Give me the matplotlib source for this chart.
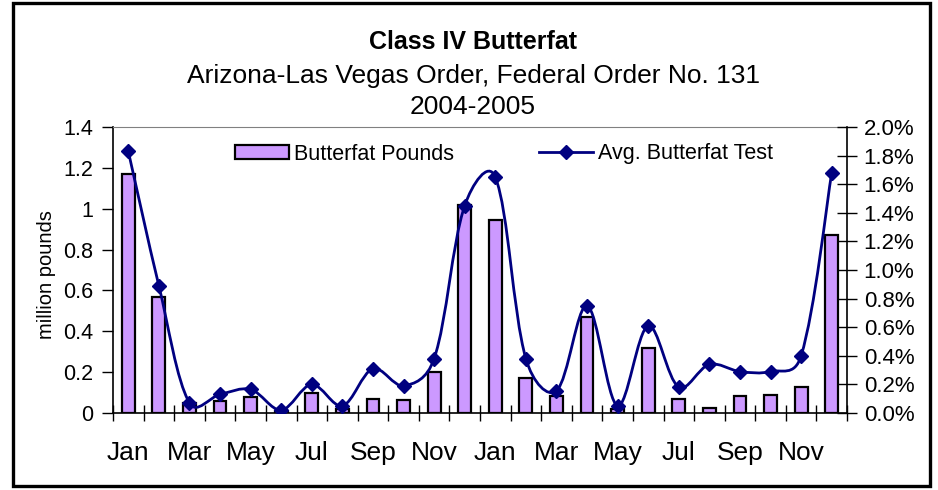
import numpy as np
import matplotlib.pyplot as plt
from matplotlib.path import Path
from matplotlib.patches import PathPatch, Rectangle
from matplotlib.lines import Line2D
from matplotlib.ticker import FuncFormatter, MultipleLocator

plt.rcParams['font.family'] = ['Liberation Sans', 'DejaVu Sans']

# Monthly data, Jan 2004 - Dec 2005
months = ['Jan', 'Feb', 'Mar', 'Apr', 'May', 'Jun',
          'Jul', 'Aug', 'Sep', 'Oct', 'Nov', 'Dec'] * 2
butterfat_pounds = [1.17, 0.57, 0.05, 0.06, 0.08, 0.01, 0.10, 0.02, 0.07, 0.065, 0.20, 1.02,
                    0.945, 0.17, 0.085, 0.47, 0.02, 0.32, 0.067, 0.026, 0.083, 0.088, 0.125, 0.87]
avg_test = [1.83, 0.89, 0.07, 0.13, 0.165, 0.02, 0.20, 0.05, 0.31, 0.19, 0.38, 1.45,
            1.65, 0.38, 0.155, 0.75, 0.05, 0.61, 0.18, 0.34, 0.29, 0.29, 0.40, 1.68]  # percent

bar_color = '#CC99FF'
line_color = '#000080'

W, H = 938, 490
fig = plt.figure(figsize=(W / 100, H / 100), dpi=100)
fig.patch.set_facecolor('white')

# outer chart border
fig.patches.append(Rectangle((13 / W, 4 / H), (930 - 13) / W, (487 - 4) / H,
                             transform=fig.transFigure, fill=False,
                             edgecolor='black', linewidth=2.4))

left, right, top, bottom = 113, 847, 127, 413
ax = fig.add_axes([left / W, 1 - bottom / H, (right - left) / W, (bottom - top) / H])
ax2 = ax.twinx()

x = np.arange(len(months))
ax.bar(x, butterfat_pounds, width=0.42, color=bar_color, edgecolor='black',
       linewidth=1.6, zorder=2)

ax.set_xlim(-0.5, len(months) - 0.5)
ax.set_ylim(0, 1.4)
ax.yaxis.set_major_locator(MultipleLocator(0.2))
ax.yaxis.set_major_formatter(FuncFormatter(lambda v, p: ('%.1f' % v).rstrip('0').rstrip('.') if v else '0'))

# category boundary ticks, labels on every other month
ax.set_xticks(np.arange(-0.5, len(months)))
ax.set_xticklabels([])
ax.set_xticks(x[::2], minor=True)
ax.set_xticklabels(months[::2], minor=True)
ax.tick_params(axis='x', which='major', direction='inout', length=12, width=1)
ax.tick_params(axis='x', which='minor', length=0, pad=20, labelsize=19)
ax.tick_params(axis='y', direction='out', length=8, width=1, pad=6, labelsize=15.5)

ax.spines['top'].set_color('#808080')
ax.spines['bottom'].set_linewidth(1.2)
ax.spines['left'].set_linewidth(1.2)
ax.spines['right'].set_visible(False)
fig.text(47 / W, 1 - 275 / H, 'million pounds', rotation=90, ha='center',
         va='center', fontsize=14.5)

# smoothed line: Bezier through the points, control arms weighted by
# neighbouring segment lengths in screen space (spreadsheet-style smoothing)
pts = np.column_stack([x, np.array(avg_test) / 100.0])
sx = (right - left) / len(months)
sy = (bottom - top) / 0.02
scr = pts * [sx, sy]
verts = [pts[0]]
codes = [Path.MOVETO]
n = len(pts)
f = 1.0 / 6.0
for i in range(n - 1):
    i0, i3 = max(i - 1, 0), min(i + 2, n - 1)
    d01 = np.hypot(*(scr[i] - scr[i0]))
    d12 = np.hypot(*(scr[i + 1] - scr[i]))
    d23 = np.hypot(*(scr[i3] - scr[i + 1]))
    w1 = 2 * d12 / (d01 + d12) if d01 > 0 else 1.0
    w2 = 2 * d12 / (d12 + d23) if d23 > 0 else 1.0
    w1 = min(0.5 * (1 + w1), 1.4)
    w2 = min(0.5 * (1 + w2), 1.4)
    c1 = pts[i] + f * w1 * (pts[i + 1] - pts[i0])
    c2 = pts[i + 1] - f * w2 * (pts[i3] - pts[i])
    verts += [c1, c2, pts[i + 1]]
    codes += [Path.CURVE4] * 3
ax2.add_patch(PathPatch(Path(verts, codes), fill=False, edgecolor=line_color,
                        linewidth=2, zorder=3))
ax2.plot(x, pts[:, 1], linestyle='none', marker='D', markersize=7.5,
         color=line_color, zorder=4)

ax2.set_ylim(0, 0.02)
ax2.yaxis.set_major_locator(MultipleLocator(0.002))
ax2.yaxis.set_major_formatter(FuncFormatter(lambda v, p: '%.1f%%' % (v * 100)))
ax2.tick_params(axis='y', direction='inout', length=14, width=1, pad=5, labelsize=16)
ax2.spines['right'].set_linewidth(1.2)
ax2.spines['top'].set_visible(False)
ax2.spines['left'].set_visible(False)
ax2.spines['bottom'].set_visible(False)

# titles
cx = 473 / W
fig.text(cx, 1 - 42 / H, 'Class IV Butterfat', ha='center', va='center',
         fontsize=18, fontweight='bold')
fig.text(cx, 1 - 76 / H, 'Arizona-Las Vegas Order, Federal Order No. 131',
         ha='center', va='center', fontsize=19)
fig.text(cx, 1 - 107 / H, '2004-2005', ha='center', va='center', fontsize=19)

# legend
handles = [Rectangle((0, 0), 1, 1, facecolor=bar_color, edgecolor='black', linewidth=1.6),
           Line2D([], [], color=line_color, linewidth=2, marker='D', markersize=7.5)]
fig.legend(handles, ['Butterfat Pounds', 'Avg. Butterfat Test'], loc='center left',
           bbox_to_anchor=(235 / W, 1 - 154 / H), ncol=2, frameon=False,
           fontsize=15.5, handlelength=2.5, handleheight=0.6, handletextpad=0.25,
           columnspacing=3.95, borderpad=0, borderaxespad=0, numpoints=1)

fig.savefig('out.png', dpi=100)
